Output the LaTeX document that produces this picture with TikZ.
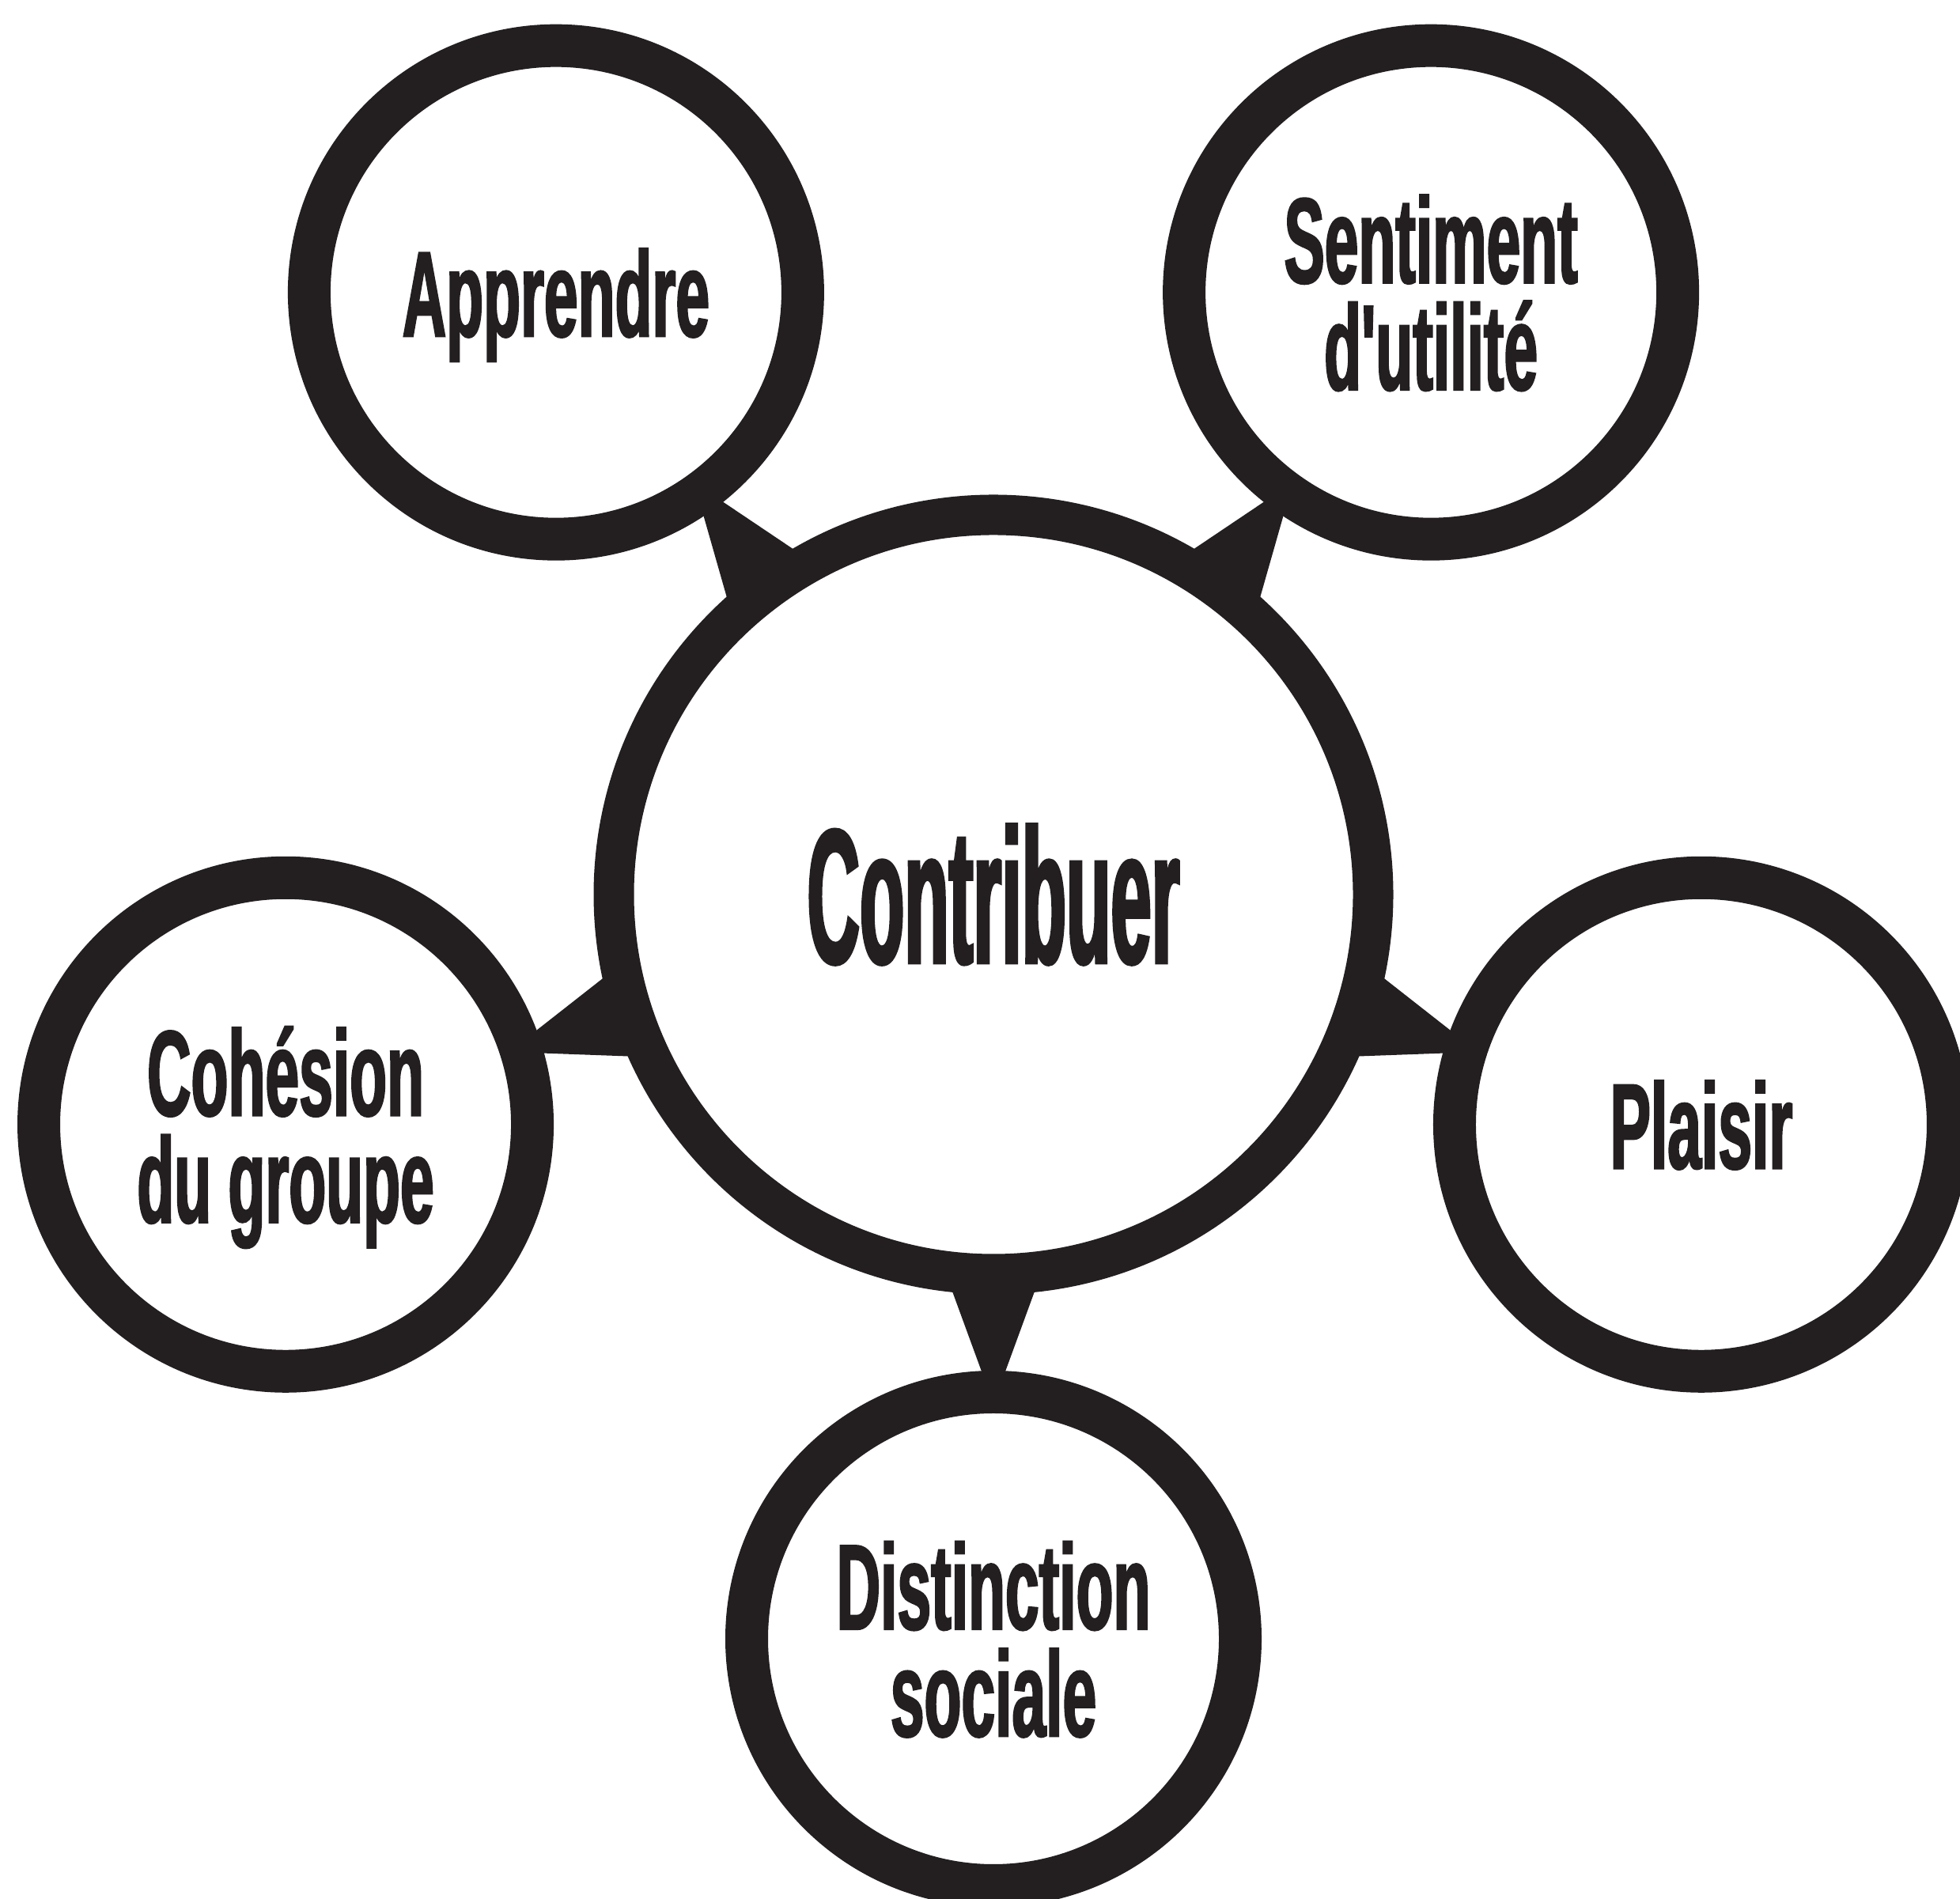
\documentclass[tikz,border=0pt]{standalone}
\usepackage{fontspec}
\newfontfamily\dispfont{Liberation Sans}[FakeStretch=0.5,FakeBold=1.5]
\newfontfamily\bigdispfont{Liberation Sans}[FakeStretch=0.38,FakeBold=1.5]
\usetikzlibrary{calc}
\definecolor{ink}{HTML}{231F20}
\begin{document}
\begin{tikzpicture}[draw=ink]
\tikzset{hub/.style={circle,draw,line width=0.51cm,fill=white,minimum size=9.6cm,inner sep=0pt,outer sep=0pt,text=ink,font=\bigdispfont\bfseries\fontsize{69}{69}\selectfont},
  motive/.style={circle,draw,line width=0.54cm,fill=white,minimum size=6.24cm,inner sep=0pt,outer sep=0pt,text=ink,align=center,text depth=0pt,font=\dispfont\bfseries\fontsize{43.7}{38.5}\selectfont}}
\useasboundingbox (0,0) rectangle (24.78,24);
\node [hub] (ctr) at (12.56,12.69) {Contribuer};
\node [motive] (app) at ($(ctr)+(126:9.41)$) {Apprendre};
\node [motive] (sen) at ($(ctr)+(54:9.41)$) {Sentiment\\d'utilité};
\node [motive] (coh) at ($(ctr)+(198:9.41)$) {Cohésion\\du groupe};
\node [motive] (pla) at ($(ctr)+(342:9.41)$) {Plaisir};
\node [motive] (dis) at ($(ctr)+(270:9.41)$) {Distinction\\sociale};
\foreach \s in {app,sen,coh,pla,dis}
  \fill [ink] ($(\s)!2.97cm!(ctr)$) -- ($(ctr)!4.8cm!(\s)!0.6cm!90:(\s)$) -- ($(ctr)!4.8cm!(\s)!0.6cm!-90:(\s)$) -- cycle;
\end{tikzpicture}
\end{document}
